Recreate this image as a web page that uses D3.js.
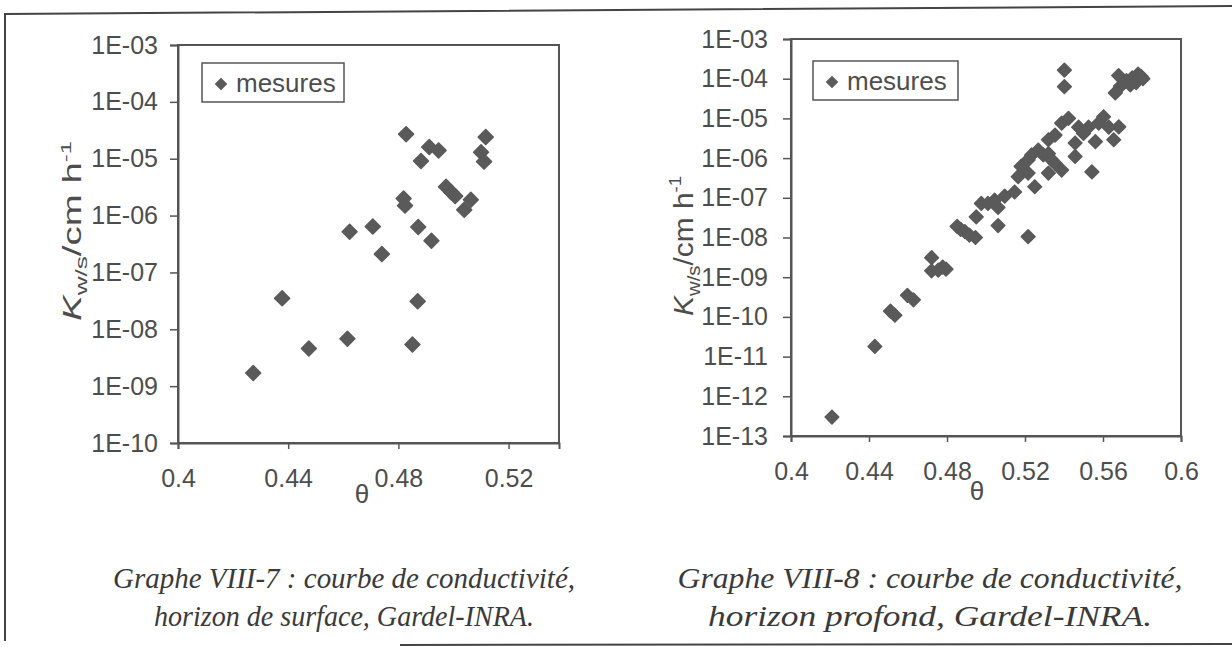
<!DOCTYPE html>
<html><head><meta charset="utf-8">
<script src="https://cdn.jsdelivr.net/npm/d3@7"></script>
<style>body{margin:0;background:#fff}svg{display:block}</style>
</head><body>
<svg id="c" width="1232" height="647"></svg>
<script>
// ---- data ----
const leftTheta = [0.4273,0.4378,0.4475,0.4615,0.4623,0.4707,0.474,0.4828,0.4819,0.4824,0.4851,0.487,0.4872,0.4882,0.4912,0.4946,0.492,0.4973,0.4991,0.5006,0.5039,0.5063,0.5117,0.510,0.5111];
const leftK = [1.7e-9,3.5e-8,4.6e-9,6.8e-9,5.2e-7,6.4e-7,2.1e-7,2.7e-5,2.0e-6,1.5e-6,5.4e-9,3.1e-8,6.3e-7,9.1e-6,1.6e-5,1.4e-5,3.6e-7,3.2e-6,2.6e-6,2.2e-6,1.26e-6,1.9e-6,2.4e-5,1.3e-5,8.9e-6];
const rightTheta = [0.421,0.443,0.451,0.4533,0.4597,0.4628,0.4721,0.4721,0.4755,0.4778,0.4795,0.4852,0.487,0.4892,0.4915,0.4946,0.495,0.4976,0.501,0.5044,0.5062,0.5062,0.5096,0.5147,0.5165,0.518,0.5216,0.5216,0.5216,0.525,0.5234,0.5268,0.5294,0.532,0.532,0.532,0.5337,0.5354,0.5354,0.5388,0.5388,0.5402,0.5402,0.5423,0.5457,0.5457,0.5475,0.55,0.5526,0.5543,0.5561,0.5578,0.5603,0.563,0.5655,0.5681,0.5663,0.569,0.568,0.572,0.575,0.574,0.578,0.5795,0.577,0.5805];
const rightK = [3e-13,1.8e-11,1.4e-10,1.1e-10,3.5e-10,2.7e-10,3.1e-9,1.45e-9,1.5e-9,1.8e-9,1.6e-9,1.9e-8,1.6e-8,1.4e-8,1.15e-8,1.0e-8,3.3e-8,7.2e-8,7.2e-8,8.7e-8,2.0e-8,5.7e-8,1.1e-7,1.4e-7,3.4e-7,6.2e-7,9e-7,1.05e-8,4.2e-7,1.9e-7,1.2e-6,1.6e-6,1.2e-6,4.2e-7,2.9e-6,1.3e-6,9e-7,3.8e-6,7.4e-7,5e-7,7.6e-6,1.65e-4,6.3e-5,1.0e-5,2.4e-6,1.1e-6,6e-6,4.2e-6,6e-6,4.5e-7,2.6e-6,7.6e-6,1.1e-5,6e-6,2.9e-6,6.1e-6,4.4e-5,6.5e-5,1.2e-4,9e-5,1.05e-4,7e-5,1.3e-4,1.15e-4,8e-5,1.0e-4];
const leftYTickValues = [1e-3,1e-4,1e-5,1e-6,1e-7,1e-8,1e-9,1e-10];
const leftYTickLabels = ["1E-03","1E-04","1E-05","1E-06","1E-07","1E-08","1E-09","1E-10"];
const rightYTickValues = [1e-3,1e-4,1e-5,1e-6,1e-7,1e-8,1e-9,1e-10,1e-11,1e-12,1e-13];
const rightYTickLabels = ["1E-03","1E-04","1E-05","1E-06","1E-07","1E-08","1E-09","1E-10","1E-11","1E-12","1E-13"];
const leftXTicks = [0.4,0.44,0.48,0.52];
const rightXTicks = [0.4,0.44,0.48,0.52,0.56,0.6];
const legendLabel = "mesures";
const xTitle = "θ";
const captionLeft = ["Graphe VIII-7 : courbe de conductivité,","horizon de surface, Gardel-INRA."];
const captionRight = ["Graphe VIII-8 : courbe de conductivité,","horizon profond, Gardel-INRA."];

// ---- drawing ----
const svg = d3.select("#c");
const INK = "#555";
const FONT = "'Liberation Sans', Arial, sans-serif";
svg.append("rect").attr("width",1232).attr("height",647).attr("fill","#fff");

// outer frame of the scanned figure
svg.append("path").attr("d","M5,641 L5,14 L1232,6").attr("fill","none").attr("stroke","#444").attr("stroke-width",2);
svg.append("path").attr("d","M400,645 L1232,644").attr("fill","none").attr("stroke","#444").attr("stroke-width",2);

function chart(o){
  const g = svg.append("g");
  const x = d3.scaleLinear().domain(o.xDomain).range([o.left,o.right]);
  const y = d3.scaleLog().domain(o.yDomain).range([o.bottom,o.top]);
  g.append("rect").attr("x",o.left).attr("y",o.top).attr("width",o.right-o.left).attr("height",o.bottom-o.top)
    .attr("fill","none").attr("stroke",INK).attr("stroke-width",2);
  const ya = g.append("g").attr("transform",`translate(${o.left},0)`)
    .call(d3.axisLeft(y).tickValues(o.yTicks).tickFormat((d,i)=>o.yLabels[i]).tickSize(8).tickPadding(o.yPad));
  const xa = g.append("g").attr("transform",`translate(0,${o.bottom})`)
    .call(d3.axisBottom(x).tickValues(o.xTicks).tickFormat(d=>String(+d.toFixed(2))).tickSize(6).tickPadding(20));
  [ya,xa].forEach(a=>{
    a.select(".domain").attr("stroke",INK).attr("stroke-width",2);
    a.selectAll(".tick line").attr("stroke",INK).attr("stroke-width",1.5);
    a.selectAll(".tick text").attr("fill","#4d4d4d").style("font-family",FONT).style("font-size","25px");
  });
  const sym = d3.symbol(d3.symbolSquare, o.side*o.side);
  g.append("g").selectAll("path").data(o.xs.map((v,i)=>[v,o.ys[i]])).join("path")
    .attr("d",sym).attr("transform",d=>`translate(${x(d[0])},${y(d[1])}) rotate(45)`)
    .attr("fill","#5a5a5a").attr("stroke","#5a5a5a").attr("stroke-width",1.6).attr("stroke-linejoin","round");
  g.append("rect").attr("x",o.lg[0]).attr("y",o.lg[1]).attr("width",o.lg[2]).attr("height",o.lg[3])
    .attr("fill","#fff").attr("stroke",INK).attr("stroke-width",1.5);
  g.append("path").attr("d",d3.symbol(d3.symbolSquare,80)).attr("transform",`translate(${o.lg[0]+19},${o.lg[1]+21}) rotate(45)`)
    .attr("fill","#5a5a5a");
  g.append("text").attr("x",o.lg[0]+34).attr("y",o.lg[1]+29).text(legendLabel)
    .attr("fill","#4d4d4d").style("font-family",FONT).style("font-size","26px");
  g.append("text").attr("x",o.theta[0]).attr("y",o.theta[1]).attr("text-anchor","middle").text(xTitle)
    .attr("fill","#4d4d4d").style("font-family",FONT).style("font-size","26px");
  const t = g.append("text").attr("text-anchor","middle").attr("fill","#4d4d4d")
    .style("font-family",FONT).style("font-size",o.tSize+"px");
  t.append("tspan").attr("font-style","italic").text("K");
  t.append("tspan").attr("font-size",(o.tSize*0.68)+"px").attr("dy",o.tSize*0.25).text("w/s");
  t.append("tspan").attr("dy",-o.tSize*0.25).text("/cm h");
  t.append("tspan").attr("font-size",(o.tSize*0.62)+"px").attr("dy",-o.tSize*0.42).text("-1");
  const w = t.node().getComputedTextLength();
  t.attr("transform",`translate(${o.title[0]},${o.title[1]}) rotate(-90) scale(${o.tLen/w},1) translate(0,${o.tSize*0.36})`);
}

chart({left:178,right:559,top:45,bottom:443,xDomain:[0.4,0.5383],yDomain:[1e-10,1e-3],
  yTicks:leftYTickValues,yLabels:leftYTickLabels,xTicks:leftXTicks,yPad:12,
  xs:leftTheta,ys:leftK,side:10.5,lg:[202,63,142,39],theta:[362,503],title:[72,231],tSize:25,tLen:180});
chart({left:791,right:1181,top:39,bottom:436,xDomain:[0.4,0.6],yDomain:[1e-13,1e-3],
  yTicks:rightYTickValues,yLabels:rightYTickLabels,xTicks:rightXTicks,yPad:15,
  xs:rightTheta,ys:rightK,side:9.6,lg:[813,61,145,39],theta:[977,500],title:[683,246],tSize:28,tLen:140});

function caption(lines,cx,widths){
  lines.forEach((s,i)=>{
    svg.append("text").attr("x",cx).attr("y",588+i*38).attr("text-anchor","middle")
      .attr("textLength",widths[i]).attr("lengthAdjust","spacingAndGlyphs")
      .attr("fill","#3a3a3a").style("font-family","'Liberation Serif', 'Times New Roman', serif")
      .style("font-style","italic").style("font-size","30px").text(s);
  });
}
caption(captionLeft,344,[462,380]);
caption(captionRight,930,[505,444]);
</script>
</body></html>
